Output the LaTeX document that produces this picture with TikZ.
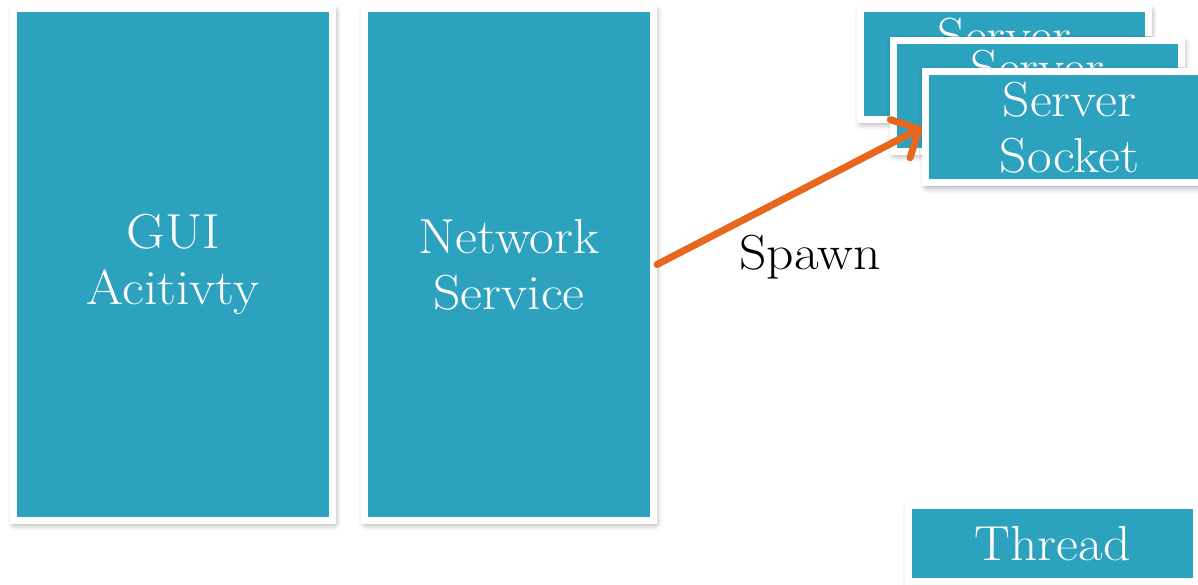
\documentclass[tikz,border=0pt]{standalone}
\usepackage{fontspec}
\setmainfont{Latin Modern Roman}[FakeStretch=1.09]
\usetikzlibrary{arrows.meta,shadows.blur}
\definecolor{boxteal}{HTML}{2DA2BF}
\definecolor{spawnorange}{HTML}{E8671F}
\begin{document}
\begin{tikzpicture}[line width=0.14cm,
  box/.style={rectangle,fill=boxteal,draw=white,text=white,align=center,inner sep=0pt,
    font=\fontsize{28}{32}\selectfont,
    blur shadow={shadow xshift=0.8pt,shadow yshift=-1.6pt,shadow blur radius=4pt,shadow opacity=50}},
  tall box/.style={box,minimum height=10.24cm},
  sock box/.style={box,minimum width=5.76cm,minimum height=2.22cm},
  spawn arrow/.style={draw=spawnorange,line cap=round,line join=round,
    -{Straight Barb[length=0.42cm,width=0.86cm,round]}}]
\useasboundingbox (0,0) rectangle (23.96,-11.7);
\clip (0,0) rectangle (23.96,-11.7);
\node[tall box,minimum width=6.38cm] (gui) at (3.46,-5.29) {GUI\\Acitivty};
\node[tall box,minimum width=5.78cm] (net) at (10.18,-5.29) {Network\\Service};
% stacked server sockets, back to front
\node[sock box] (srv1) at (20.09,-1.28) {Server\\Socket};
\node[sock box] (srv2) at (20.75,-1.92) {Server\\Socket};
\node[sock box] (srv3) at (21.39,-2.55) {Server\\Socket};
\node[box,minimum width=5.76cm,minimum height=1.52cm] (thread) at (21.05,-10.87) {Thread};
\draw[spawn arrow] (net.east) -- (srv3.west);
\node[font=\fontsize{28}{32}\selectfont] (spawn) at (16.2,-5.14) {Spawn};
\end{tikzpicture}
\end{document}
